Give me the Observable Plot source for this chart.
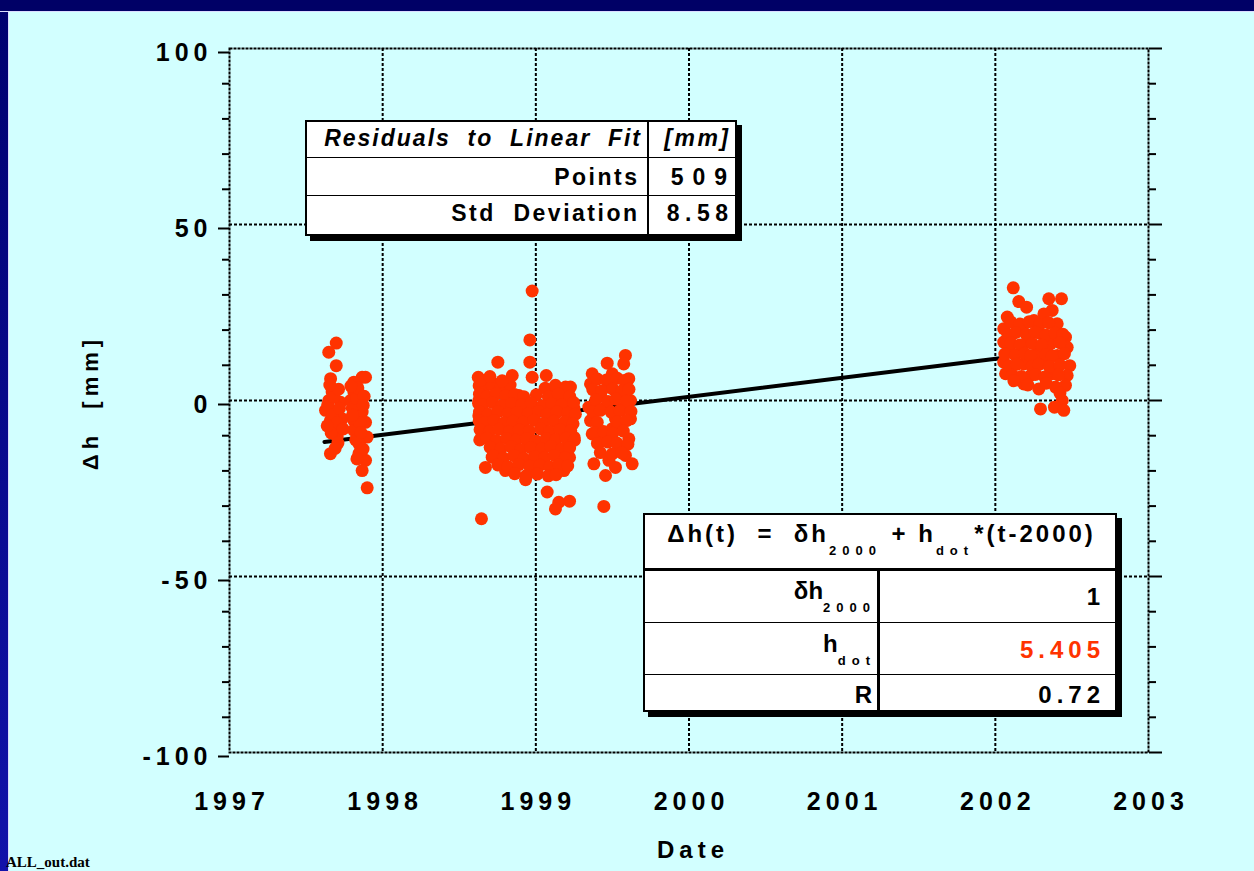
<!DOCTYPE html>
<html><head><meta charset="utf-8">
<script src="https://cdn.jsdelivr.net/npm/d3@7"></script>
<script src="https://cdn.jsdelivr.net/npm/@observablehq/plot@0.6"></script>
<style>
html,body{margin:0;padding:0;background:#d2ffff;}
#wrap{position:relative;width:1254px;height:871px;overflow:hidden;background:#d2ffff;font-family:"Liberation Sans",Arial,sans-serif;}
#chart{position:absolute;left:0;top:0;}
#chart svg text{letter-spacing:5px;}
#chart g[aria-label="ytitle"] text{letter-spacing:3px;}
#chart g[aria-label="xtitle"] text{letter-spacing:4.5px;}
#topband{position:absolute;left:0;top:0;width:1254px;height:11px;background:#000066;border-bottom:1px solid #dcdcff;z-index:5;}
#leftband{position:absolute;left:0;top:12px;width:8px;height:859px;background:linear-gradient(#000070,#1212aa);border-right:1px solid #dcdcff;z-index:5;}
.box{position:absolute;background:#fff;border:2px solid #000;box-sizing:border-box;z-index:6;}
.ln{position:absolute;background:#000;z-index:7;}
.tx{position:absolute;font-weight:bold;white-space:pre;color:#000;z-index:8;}
.sub{font-size:13px;letter-spacing:6px;vertical-align:-13px;line-height:1;}
#fname{position:absolute;font-family:"Liberation Serif","Times New Roman",serif;font-weight:bold;font-size:15px;line-height:15px;white-space:pre;color:#000;z-index:9;}
</style>
</head><body>
<div id="wrap">
  <div id="chart"></div>
  <div id="topband"></div>
  <div id="leftband"></div>
</div>
<script>
// ---- data ----
const yearTicks = [1997, 1998, 1999, 2000, 2001, 2002, 2003];
const gridYears = [1998, 1999, 2000, 2001, 2002];
const dhMajorTicks = [-100, -50, 0, 50, 100];
const dhGrid = [-50, 0, 50];
const dhMinorTicks = [-90, -80, -70, -60, -40, -30, -20, -10, 10, 20, 30, 40, 60, 70, 80, 90];

const fitDates = [1997.62, 2002.03];
const fitDh = [-11.8, 12.0];

const campaign1997 = [
 [1997.697,16.3],[1997.648,13.7],[1997.697,9.9],[1997.660,6.2],[1997.866,6.6],[1997.888,6.6],[1997.812,5.2],
 [1997.670,2.4],[1997.812,2.4],[1997.648,0.0],[1997.725,-0.5],[1997.790,0.0],[1997.627,-2.8],[1997.692,-3.3],
 [1997.866,-3.3],[1997.659,-5.7],[1997.736,-5.2],[1997.812,-5.7],[1997.888,-6.2],[1997.681,-8.5],[1997.812,-8.5],
 [1997.703,-10.4],[1997.899,-10.4],[1997.845,-12.3],[1997.659,-15.1],[1997.845,-15.1],[1997.888,-17.0],
 [1997.866,-19.9],[1997.899,-24.8],[1997.641,-1.2],[1997.672,-4.1],[1997.701,-6.3],[1997.718,-2.2],[1997.683,1.1],
 [1997.664,-9.2],[1997.708,-12.1],[1997.690,-13.6],[1997.801,-2.1],[1997.829,0.6],[1997.851,-6.4],[1997.824,-11.2],
 [1997.858,-9.1],[1997.838,3.6],[1997.872,-13.8],[1997.793,4.1],[1997.803,-4.2],[1997.742,-8.1],[1997.638,-7.2],
 [1997.879,1.2],[1997.712,3.2],[1997.655,4.4],[1997.832,-16.6],[1997.873,-1.4]
];
const campaign1998 = [
 [1998.976,31.1],[1998.961,17.2],[1998.752,10.9],[1998.961,10.9],[1998.624,6.6],[1998.846,7.1],[1998.976,6.6],
 [1999.068,7.1],[1998.726,4.7],[1999.194,3.8],[1999.226,3.8],[1999.102,2.4],[1998.628,0.0],[1998.889,1.4],
 [1999.172,-0.5],[1999.237,-2.4],[1998.628,-4.3],[1998.650,-9.5],[1998.715,-16.1],[1998.671,-19.0],[1998.802,-19.9],
 [1998.933,-22.5],[1999.074,-26.0],[1999.150,-28.9],[1999.128,-30.8],[1999.220,-28.6],[1998.645,-33.6],
 [1999.250,-2.3],[1999.250,-10.5],[1999.220,-16.2],[1999.183,-19.9],[1998.975,-18.0],
 [1998.630,4.2],[1998.660,3.7],[1998.712,4.5],[1998.771,3.9],[1998.832,4.4],[1999.061,3.5],[1999.128,4.3],[1999.198,3.2],
 [1998.632,1.8],[1998.683,1.2],[1998.741,1.9],[1998.802,1.3],[1998.861,1.7],[1998.921,1.1],[1999.003,1.6],[1999.082,1.0],[1999.147,1.8],[1999.221,1.2],
 [1998.626,-0.8],[1998.652,-1.3],[1998.718,-0.6],[1998.779,-1.4],[1998.842,-0.9],[1998.908,-1.2],[1998.969,-0.7],[1999.041,-1.5],[1999.103,-0.9],[1999.168,-1.3],[1999.247,-0.6],
 [1998.632,-3.3],[1998.688,-3.9],[1998.752,-3.2],[1998.818,-3.8],[1998.879,-3.4],[1998.951,-3.7],[1999.018,-3.1],[1999.072,-3.9],[1999.139,-3.3],[1999.208,-3.6],[1999.258,-3.9],
 [1998.630,-5.8],[1998.663,-6.3],[1998.728,-5.7],[1998.791,-6.4],[1998.853,-5.9],[1998.919,-6.2],[1998.988,-5.6],[1999.051,-6.5],[1999.118,-5.9],[1999.188,-6.1],[1999.243,-6.6],
 [1998.636,-8.3],[1998.697,-8.8],[1998.759,-8.2],[1998.828,-8.9],[1998.892,-8.4],[1998.958,-8.7],[1999.031,-8.1],[1999.089,-8.9],[1999.158,-8.3],[1999.228,-8.6],
 [1998.634,-11.2],[1998.681,-10.7],[1998.742,-11.4],[1998.809,-10.8],[1998.871,-11.3],[1998.938,-10.9],[1999.002,-11.5],[1999.068,-10.8],[1999.131,-11.2],[1999.198,-10.7],[1999.252,-11.3],
 [1998.702,-13.3],[1998.771,-13.8],[1998.838,-13.2],[1998.901,-13.9],[1998.968,-13.4],[1999.039,-13.7],[1999.098,-13.1],[1999.168,-13.8],[1999.221,-13.4],
 [1998.722,-15.8],[1998.788,-16.3],[1998.857,-15.7],[1998.921,-16.4],[1998.992,-15.9],[1999.058,-16.2],[1999.121,-15.6],[1999.191,-16.3],
 [1998.752,-18.3],[1998.818,-18.8],[1998.889,-18.2],[1998.961,-18.7],[1999.028,-18.4],[1999.091,-18.9],[1999.148,-18.3],[1999.208,-18.6],
 [1998.862,-20.8],[1998.938,-21.3],[1999.009,-20.9],[1999.081,-21.4],[1999.132,-21.1],
 [1998.640,5.8],[1998.700,6.8],[1998.780,5.6]
];
const campaign1999 = [
 [1999.585,12.8],[1999.466,10.6],[1999.368,7.6],[1999.574,10.4],[1999.499,7.6],[1999.607,6.2],[1999.357,4.7],
 [1999.477,4.7],[1999.422,1.4],[1999.542,1.9],[1999.618,0.0],[1999.346,-1.9],[1999.455,-1.9],[1999.564,-2.4],
 [1999.357,-5.7],[1999.520,-5.2],[1999.618,-5.2],[1999.368,-9.5],[1999.499,-8.0],[1999.607,-10.9],[1999.433,-11.4],
 [1999.542,-13.3],[1999.585,-15.6],[1999.379,-18.0],[1999.477,-17.0],[1999.520,-19.0],[1999.629,-18.0],
 [1999.455,-21.3],[1999.444,-30.1],
 [1999.402,6.1],[1999.461,5.8],[1999.532,6.3],[1999.578,5.7],
 [1999.372,3.1],[1999.431,2.8],[1999.502,3.3],[1999.561,2.7],[1999.608,3.2],
 [1999.391,0.2],[1999.471,-0.3],[1999.522,0.4],[1999.592,-0.2],
 [1999.372,-3.2],[1999.421,-2.8],[1999.492,-3.3],[1999.548,-2.9],[1999.621,-3.1],
 [1999.401,-6.2],[1999.531,-6.1],[1999.592,-5.7],
 [1999.381,-9.1],[1999.441,-8.8],[1999.502,-9.3],[1999.571,-8.7],
 [1999.402,-12.2],[1999.471,-11.8],[1999.529,-12.1],[1999.601,-12.4],
 [1999.421,-14.8],[1999.498,-15.2],[1999.561,-14.9]
];
const campaign2002 = [
 [2002.117,32.0],[2002.349,28.9],[2002.432,28.9],[2002.153,28.1],[2002.204,26.5],[2002.371,25.6],[2002.317,24.6],
 [2002.078,23.7],[2002.252,22.7],[2002.404,21.8],[2002.055,20.4],[2002.175,19.9],[2002.295,19.0],[2002.458,18.0],
 [2002.055,16.6],[2002.208,16.6],[2002.360,16.1],[2002.469,15.1],[2002.099,13.7],[2002.273,13.3],[2002.404,12.8],
 [2002.055,10.9],[2002.186,10.4],[2002.317,10.9],[2002.486,9.9],[2002.067,7.6],[2002.230,7.1],[2002.371,7.6],
 [2002.469,7.1],[2002.186,4.7],[2002.284,3.3],[2002.393,3.8],[2002.458,4.3],[2002.437,0.0],[2002.295,-2.4],
 [2002.386,-1.9],[2002.447,-2.8],
 [2002.102,22.3],[2002.161,21.7],[2002.221,22.4],[2002.289,21.6],[2002.348,22.1],
 [2002.082,18.7],[2002.131,19.3],[2002.202,18.8],[2002.261,19.4],[2002.331,18.6],[2002.388,19.2],[2002.441,18.8],
 [2002.101,16.3],[2002.162,15.8],[2002.241,16.2],[2002.302,15.7],[2002.421,16.4],
 [2002.062,13.2],[2002.131,12.8],[2002.191,13.4],[2002.232,12.7],[2002.331,13.1],[2002.372,12.6],[2002.451,13.3],
 [2002.089,9.8],[2002.142,10.3],[2002.241,9.7],[2002.282,10.2],[2002.352,9.6],[2002.422,10.1],
 [2002.112,7.2],[2002.171,6.8],[2002.262,7.4],[2002.322,6.7],[2002.412,7.3],
 [2002.212,4.4],[2002.332,4.9],[2002.121,5.6],[2002.422,2.1]
];

const residualHeader = ["Residuals  to  Linear  Fit", "[mm]"];
const residualLabels = ["Points", "Std  Deviation"];
const residualValues = ["509", "8.58"];
const fitRowLabels = [["δh", "2000"], ["h", "dot"], ["R", ""]];
const fitRowValues = ["1", "5.405", "0.72"];
const fileName = "ALL_out.dat";

// ---- chart ----
const points = [...campaign1997, ...campaign1998, ...campaign1999, ...campaign2002].map(([t, h]) => ({t, h}));
const fitLine = fitDates.map((t, i) => ({t, h: fitDh[i]}));
const RED = "#ff3300";

const chart = Plot.plot({
  width: 1254, height: 871,
  marginLeft: 229, marginRight: 106, marginTop: 48, marginBottom: 119,
  style: {background: "transparent", fontFamily: "'Liberation Sans', Arial, sans-serif", color: "#000", overflow: "visible"},
  x: {domain: [1997, 2003]},
  y: {domain: [-100, 100]},
  marks: [
    Plot.gridX(gridYears, {stroke: "#000", strokeOpacity: 1, strokeWidth: 2, strokeDasharray: "3,2"}),
    Plot.gridY(dhGrid, {stroke: "#000", strokeOpacity: 1, strokeWidth: 2, strokeDasharray: "3,2"}),
    Plot.line(fitLine, {x: "t", y: "h", stroke: "#000", strokeWidth: 4}),
    Plot.dot(points, {x: "t", y: "h", r: 6.5, fill: RED}),
    Plot.frame({stroke: "#000", strokeWidth: 2, strokeDasharray: "3,1"}),
    Plot.axisY(dhMajorTicks, {anchor: "left", tickSize: 11, tickPadding: 6, tickFormat: d => String(d), fontSize: 25, fontWeight: "bold", strokeWidth: 2, label: null, dy: 4}),
    Plot.axisY(dhMinorTicks, {anchor: "left", tickSize: 7, tickFormat: () => "", strokeWidth: 2, label: null}),
    Plot.axisY(dhMajorTicks, {anchor: "right", tickSize: 13, tickFormat: () => "", strokeWidth: 2, label: null}),
    Plot.axisY(dhMinorTicks, {anchor: "right", tickSize: 7, tickFormat: () => "", strokeWidth: 2, label: null}),
    Plot.axisX(yearTicks, {anchor: "bottom", tickSize: 0, tickPadding: 40, tickFormat: d => String(d), fontSize: 25, fontWeight: "bold", label: null, dx: 2.5}),
    Plot.text(["Date"], {text: d => d, frameAnchor: "bottom", textAnchor: "middle", lineAnchor: "top", dy: 88, dx: 4, fontSize: 24, fontWeight: "bold", ariaLabel: "xtitle"}),
    Plot.text(["Δh\u00a0\u00a0[mm]"], {text: d => d, frameAnchor: "left", textAnchor: "middle", lineAnchor: "middle", rotate: -90, dx: -139, dy: 2, fontSize: 22, fontWeight: "bold", ariaLabel: "ytitle"})
  ]
});
document.getElementById("chart").appendChild(chart);

// ---- tables (HTML overlay) ----
const wrap = document.getElementById("wrap");
function el(cls, css, html) {
  const d = document.createElement("div");
  d.className = cls;
  Object.assign(d.style, css);
  if (html !== undefined) d.innerHTML = html;
  wrap.appendChild(d);
  return d;
}
function box(l, t, w, h, sh) {
  el("box", {left: l + "px", top: t + "px", width: w + "px", height: h + "px", boxShadow: `${sh}px ${sh}px 0 #000`});
}
function line(l, t, w, h) {
  el("ln", {left: l + "px", top: t + "px", width: w + "px", height: h + "px"});
}
// text right-aligned so its last glyph ends at xEnd, baseline at yBase
function textR(html, xEnd, yBase, size, ls, extra) {
  el("tx", Object.assign({right: (1254 - xEnd - ls) + "px", top: (yBase - 0.8465 * size) + "px",
    fontSize: size + "px", lineHeight: size + "px", letterSpacing: ls + "px", textAlign: "right"}, extra || {}), html);
}
function textC(html, left, width, yBase, size, ls, extra) {
  el("tx", Object.assign({left: (left + ls / 2) + "px", width: width + "px", top: (yBase - 0.8465 * size) + "px",
    fontSize: size + "px", lineHeight: size + "px", letterSpacing: ls + "px", textAlign: "center"}, extra || {}), html);
}

// Table 1: residuals
box(305, 120, 432, 116, 5);
line(305, 157, 432, 1);
line(305, 195, 432, 1);
line(647, 120, 1.5, 116);
textR(residualHeader[0], 640, 146.7, 23, 2, {fontStyle: "italic"});
textR(residualHeader[1], 728, 146.7, 23, 2.5, {fontStyle: "italic"});
textR(residualLabels[0], 637, 185, 23, 2.5);
textR(residualValues[0], 727, 185, 23, 9);
textR(residualLabels[1], 637, 221.7, 23, 2.5);
textR(residualValues[1], 728, 221.7, 23, 5.5);

// Table 2: fit
box(643, 513, 474, 199, 5);
line(643, 568, 474, 3);
line(643, 622, 474, 1);
line(643, 674, 474, 1);
line(877, 568, 3, 144);
const sub = s => s ? `<span class="sub">${s}</span>` : "";
textC(`Δh(t)  =  δh${sub("2000")} + h${sub("dot")}*(t-2000)`, 643, 474, 542, 24, 3);
const mainBase = [599, 652, 703];
const valBase = [605, 658, 703];
fitRowLabels.forEach(([m, s], i) => {
  textR(m + sub(s), s ? 876 : 872, mainBase[i], 24, 0, {});
});
fitRowValues.forEach((v, i) => {
  textR(v, 1100, valBase[i], 24, 5, i === 1 ? {color: RED} : {});
});

// file name, bottom-left
const fn = document.createElement("div");
fn.id = "fname";
fn.textContent = fileName;
Object.assign(fn.style, {left: "6px", top: (868 - 12.6) + "px"});
wrap.appendChild(fn);
</script>
</body></html>
